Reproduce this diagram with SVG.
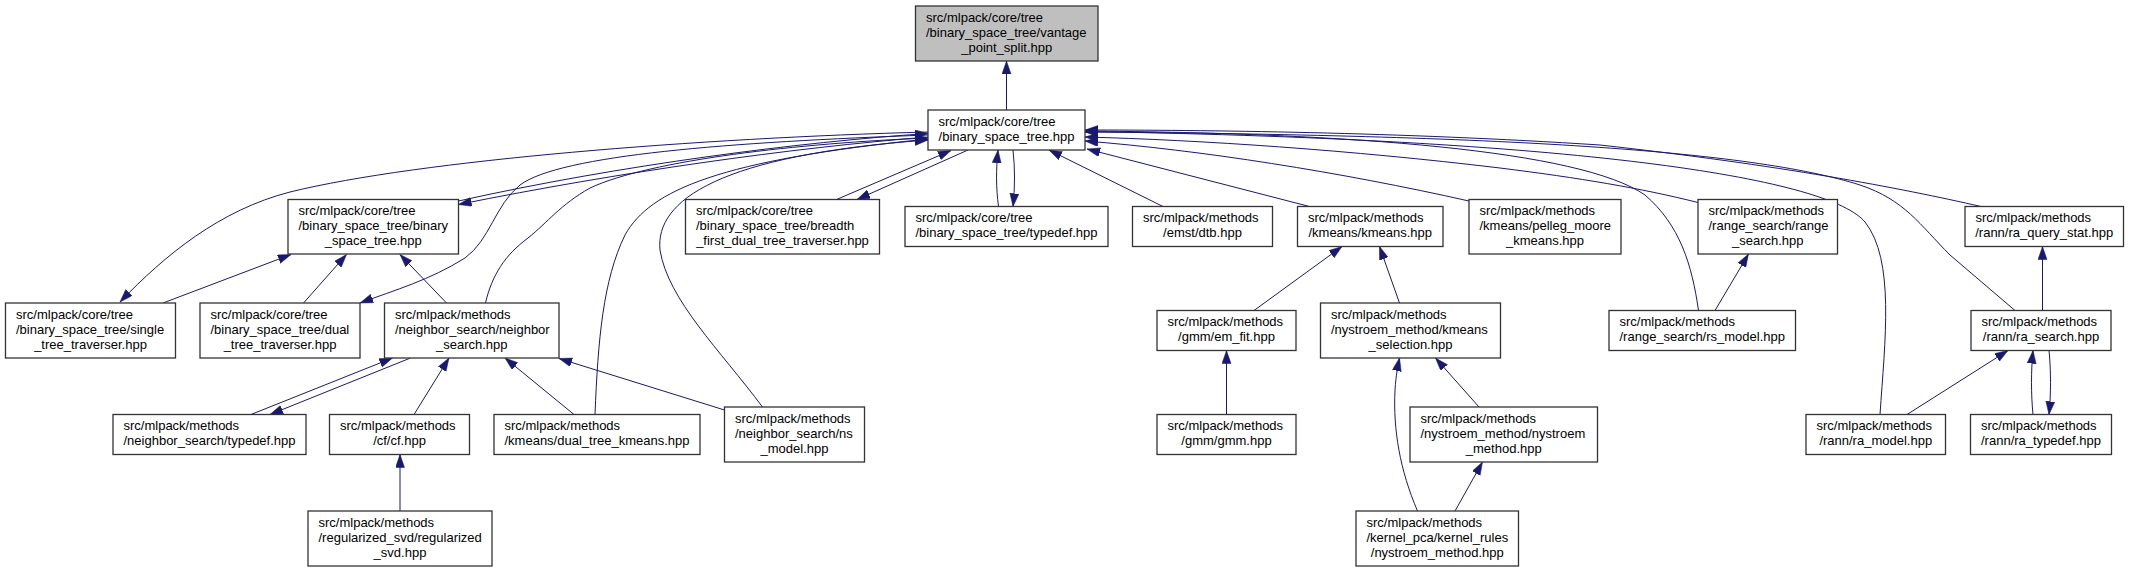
<svg xmlns="http://www.w3.org/2000/svg" width="2129" height="572" viewBox="0 0 2129 572">
<style>
.n rect{fill:#fff;stroke:#333;stroke-width:1.3}
.root rect{fill:#bfbfbf}
.n text{font-family:"Liberation Sans",Arial,Helvetica,sans-serif;font-size:13px;fill:#000}
.n text.m{text-anchor:middle}
.c path{fill:none;stroke:#191970;stroke-width:1;marker-end:url(#a)}
</style>
<defs>
<marker id="a" markerUnits="userSpaceOnUse" markerWidth="14" markerHeight="10" refX="13" refY="4.5" orient="auto">
<path d="M0,0 L13,4.5 L0,9 z" fill="#191970" stroke="#191970" stroke-width="0.5"/>
</marker>
</defs>
<rect x="0" y="0" width="2129" height="572" fill="#fff"/>
<g id="connectors" class="c">
<path d="M1006.5,110 L1006.5,61"/>
<path d="M458.5,201 C620,165 800,142 928,133.5"/>
<path d="M928,137 C790,148 620,172 458.5,204.5"/>
<path d="M928,132 C700,138 420,160 290,192 C220,210 165,255 120,302"/>
<path d="M163,303 L291,254.5"/>
<path d="M303.5,303 L346.5,254.5"/>
<path d="M928,135 C730,142 560,155 520,185 C495,205 490,240 465,258 C430,280 395,290 360,303"/>
<path d="M446.5,303 L400,254.5"/>
<path d="M485.5,303 C492,275 505,255 528,238 C548,222 560,205 590,188 C650,160 800,143 928,138"/>
<path d="M595,414.5 C598,340 603,280 625,235 C650,190 720,160 928,139"/>
<path d="M762.5,407 C720,350 668,300 660,250 C655,200 720,155 928,140"/>
<path d="M836.5,199.5 L951,150.5"/>
<path d="M968,150 L857,199.5"/>
<path d="M998.5,206.5 C996,188 996,170 998,150"/>
<path d="M1013,150 C1015,168 1015,188 1013,206.5"/>
<path d="M1163,206.5 L1049,150"/>
<path d="M1309.5,206.5 L1087,149"/>
<path d="M1469,201 C1340,172 1200,150 1085,141"/>
<path d="M1698,202.5 C1640,188 1580,178 1500,168 C1350,150 1200,140 1085,137"/>
<path d="M1981,206.5 C1900,188 1780,165 1600,145 C1400,132 1200,130 1085,130"/>
<path d="M1698.5,310.5 C1692,265 1680,225 1645,195 C1580,150 1350,133 1085,131"/>
<path d="M1880,414.5 C1885,340 1895,260 1865,222 C1830,180 1600,140 1085,131.5"/>
<path d="M2015,310.5 L1950,255 C1920,225 1905,200 1860,185 C1750,150 1500,135 1085,132"/>
<path d="M2042.5,310.5 L2042.5,246.5"/>
<path d="M1907,414.5 L2008,350.5"/>
<path d="M2033,414.5 C2031,395 2031,370 2033,350.5"/>
<path d="M2049,350.5 C2051,370 2051,395 2049,414.5"/>
<path d="M1715,310.5 L1748.5,254"/>
<path d="M1254,310.5 L1342,246.5"/>
<path d="M1399.5,303 L1379.5,246.5"/>
<path d="M1226.5,414.5 L1226.5,350.5"/>
<path d="M1479,407 L1435.5,358"/>
<path d="M1417.5,511 C1400,470 1393,430 1395,390 C1396,375 1398,365 1399.5,358"/>
<path d="M1455,511 L1482.5,462"/>
<path d="M251,414.5 L392.5,358"/>
<path d="M410.5,358 L270,414.5"/>
<path d="M414,414.5 L449,358"/>
<path d="M574,414.5 L505,358"/>
<path d="M724.5,410 L559,358.5"/>
<path d="M400,511 L400,454.5"/>
</g>
<g id="root" class="n root"><rect x="915.5" y="6" width="182.5" height="55"/><text x="926" y="21.5">src/mlpack/core/tree</text><text x="926" y="36.5">/binary_space_tree/vantage</text><text class="m" x="1006.75" y="51.5">_point_split.hpp</text></g>
<g id="bst" class="n"><rect x="928" y="110" width="157" height="40"/><text x="938.5" y="125.5">src/mlpack/core/tree</text><text class="m" x="1006.5" y="140.5">/binary_space_tree.hpp</text></g>
<g id="bb" class="n"><rect x="288" y="199.5" width="170.5" height="54.5"/><text x="298.5" y="215">src/mlpack/core/tree</text><text x="298.5" y="230">/binary_space_tree/binary</text><text class="m" x="373.25" y="245">_space_tree.hpp</text></g>
<g id="breadth" class="n"><rect x="685.5" y="199.5" width="194" height="54.5"/><text x="696" y="215">src/mlpack/core/tree</text><text x="696" y="230">/binary_space_tree/breadth</text><text class="m" x="782.5" y="245">_first_dual_tree_traverser.hpp</text></g>
<g id="bsttypedef" class="n"><rect x="905" y="206.5" width="203" height="40"/><text x="915.5" y="222">src/mlpack/core/tree</text><text class="m" x="1006.5" y="237">/binary_space_tree/typedef.hpp</text></g>
<g id="dtb" class="n"><rect x="1132.5" y="206.5" width="140" height="40"/><text x="1143" y="222">src/mlpack/methods</text><text class="m" x="1202.5" y="237">/emst/dtb.hpp</text></g>
<g id="kmeans" class="n"><rect x="1297.5" y="206.5" width="145.5" height="40"/><text x="1308" y="222">src/mlpack/methods</text><text class="m" x="1370.25" y="237">/kmeans/kmeans.hpp</text></g>
<g id="pelleg" class="n"><rect x="1469" y="199.5" width="152" height="54.5"/><text x="1479.5" y="215">src/mlpack/methods</text><text x="1479.5" y="230">/kmeans/pelleg_moore</text><text class="m" x="1545" y="245">_kmeans.hpp</text></g>
<g id="rangesearch" class="n"><rect x="1698" y="199.5" width="139.5" height="54.5"/><text x="1708.5" y="215">src/mlpack/methods</text><text x="1708.5" y="230">/range_search/range</text><text class="m" x="1767.75" y="245">_search.hpp</text></g>
<g id="raquerystat" class="n"><rect x="1965" y="206.5" width="158.5" height="40"/><text x="1975.5" y="222">src/mlpack/methods</text><text class="m" x="2044.25" y="237">/rann/ra_query_stat.hpp</text></g>
<g id="single" class="n"><rect x="5.5" y="303" width="170" height="55"/><text x="16" y="318.5">src/mlpack/core/tree</text><text x="16" y="333.5">/binary_space_tree/single</text><text class="m" x="90.5" y="348.5">_tree_traverser.hpp</text></g>
<g id="dual" class="n"><rect x="200" y="303" width="160" height="55"/><text x="210.5" y="318.5">src/mlpack/core/tree</text><text x="210.5" y="333.5">/binary_space_tree/dual</text><text class="m" x="280" y="348.5">_tree_traverser.hpp</text></g>
<g id="neighborsearch" class="n"><rect x="384.5" y="303" width="174.5" height="55"/><text x="395" y="318.5">src/mlpack/methods</text><text x="395" y="333.5">/neighbor_search/neighbor</text><text class="m" x="471.75" y="348.5">_search.hpp</text></g>
<g id="emfit" class="n"><rect x="1157" y="310.5" width="139" height="40"/><text x="1167.5" y="326">src/mlpack/methods</text><text class="m" x="1226.5" y="341">/gmm/em_fit.hpp</text></g>
<g id="kmeanssel" class="n"><rect x="1320.5" y="303" width="180" height="55"/><text x="1331" y="318.5">src/mlpack/methods</text><text x="1331" y="333.5">/nystroem_method/kmeans</text><text class="m" x="1410.5" y="348.5">_selection.hpp</text></g>
<g id="rsmodel" class="n"><rect x="1609" y="310.5" width="186.5" height="40"/><text x="1619.5" y="326">src/mlpack/methods</text><text class="m" x="1702.25" y="341">/range_search/rs_model.hpp</text></g>
<g id="rasearch" class="n"><rect x="1971" y="310.5" width="140" height="40"/><text x="1981.5" y="326">src/mlpack/methods</text><text class="m" x="2041" y="341">/rann/ra_search.hpp</text></g>
<g id="nstypedef" class="n"><rect x="113" y="414.5" width="193" height="40"/><text x="123.5" y="430">src/mlpack/methods</text><text class="m" x="209.5" y="445">/neighbor_search/typedef.hpp</text></g>
<g id="cf" class="n"><rect x="329.5" y="414.5" width="140" height="40"/><text x="340" y="430">src/mlpack/methods</text><text class="m" x="399.5" y="445">/cf/cf.hpp</text></g>
<g id="dtk" class="n"><rect x="494" y="414.5" width="206" height="40"/><text x="504.5" y="430">src/mlpack/methods</text><text class="m" x="597" y="445">/kmeans/dual_tree_kmeans.hpp</text></g>
<g id="nsmodel" class="n"><rect x="724.5" y="407" width="140" height="55"/><text x="735" y="422.5">src/mlpack/methods</text><text x="735" y="437.5">/neighbor_search/ns</text><text class="m" x="794.5" y="452.5">_model.hpp</text></g>
<g id="gmm" class="n"><rect x="1157" y="414.5" width="139" height="40"/><text x="1167.5" y="430">src/mlpack/methods</text><text class="m" x="1226.5" y="445">/gmm/gmm.hpp</text></g>
<g id="nystroem" class="n"><rect x="1410" y="407" width="187.5" height="55"/><text x="1420.5" y="422.5">src/mlpack/methods</text><text x="1420.5" y="437.5">/nystroem_method/nystroem</text><text class="m" x="1503.75" y="452.5">_method.hpp</text></g>
<g id="ramodel" class="n"><rect x="1806" y="414.5" width="139.5" height="40"/><text x="1816.5" y="430">src/mlpack/methods</text><text class="m" x="1875.75" y="445">/rann/ra_model.hpp</text></g>
<g id="ratypedef" class="n"><rect x="1970.5" y="414.5" width="141" height="40"/><text x="1981" y="430">src/mlpack/methods</text><text class="m" x="2041" y="445">/rann/ra_typedef.hpp</text></g>
<g id="regsvd" class="n"><rect x="308" y="511" width="184" height="55"/><text x="318.5" y="526.5">src/mlpack/methods</text><text x="318.5" y="541.5">/regularized_svd/regularized</text><text class="m" x="400" y="556.5">_svd.hpp</text></g>
<g id="kernelrules" class="n"><rect x="1356" y="511" width="162.5" height="55"/><text x="1366.5" y="526.5">src/mlpack/methods</text><text x="1366.5" y="541.5">/kernel_pca/kernel_rules</text><text class="m" x="1437.25" y="556.5">/nystroem_method.hpp</text></g>
</svg>
